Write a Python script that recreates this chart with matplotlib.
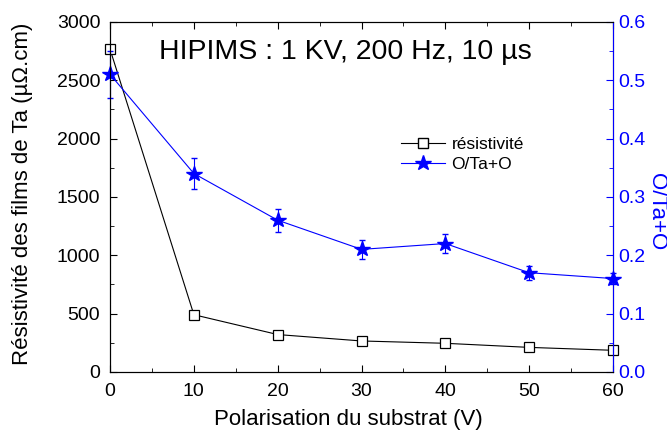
import numpy as np
import matplotlib.pyplot as plt
from matplotlib.ticker import MultipleLocator
from matplotlib.lines import Line2D

plt.rcParams['font.family'] = ['Liberation Sans', 'DejaVu Sans']

# Substrate bias (V)
bias = [0, 10, 20, 30, 40, 50, 60]
# Resistivity (uOhm.cm)
resist = [2765, 490, 320, 265, 245, 210, 185]
resist_err = [30, 30, 25, 25, 25, 25, 20]
# O/(Ta+O) ratio
ratio = [0.51, 0.34, 0.26, 0.21, 0.22, 0.17, 0.16]
ratio_err = [0.04, 0.027, 0.02, 0.016, 0.017, 0.012, 0.01]

blue = '#0000ff'

fig = plt.figure(figsize=(6.67, 4.37), dpi=100)
ax = fig.add_axes([0.165, 0.149, 0.754, 0.801])
ax2 = ax.twinx()

ax.errorbar(bias, resist, yerr=resist_err, color='black', lw=0.8,
            marker='s', ms=7, mfc='white', mec='black', mew=0.9,
            capsize=2.5, elinewidth=0.8, clip_on=False)
ax2.errorbar(bias, ratio, yerr=ratio_err, color=blue, lw=0.8,
             marker='*', ms=11.5, mfc=blue, mec=blue,
             capsize=2.5, elinewidth=0.8, clip_on=False)

ax.set_xlim(0, 60)
ax.set_ylim(0, 3000)
ax2.set_ylim(0, 0.6)

ax.xaxis.set_major_locator(MultipleLocator(10))
ax.xaxis.set_minor_locator(MultipleLocator(5))
ax.yaxis.set_major_locator(MultipleLocator(500))
ax.yaxis.set_minor_locator(MultipleLocator(250))
ax2.yaxis.set_major_locator(MultipleLocator(0.1))
ax2.yaxis.set_minor_locator(MultipleLocator(0.05))

ax.tick_params(axis='both', which='both', direction='in', labelsize=14)
ax.tick_params(axis='x', which='both', top=True, pad=8)
ax.tick_params(axis='y', which='both', right=False, pad=7)
ax.tick_params(which='major', length=5)
ax.tick_params(which='minor', length=3)
ax2.tick_params(axis='y', which='both', direction='in', colors=blue, labelsize=14)
ax2.tick_params(which='major', length=5)
ax2.tick_params(which='minor', length=3)
ax2.spines['right'].set_color(blue)
ax2.yaxis.set_major_formatter(plt.FuncFormatter(lambda v, p: f'{v:.1f}'))

ax.set_xlabel('Polarisation du substrat (V)', fontsize=16, labelpad=5)
ax.xaxis.set_label_coords(0.474, -0.105)
ax.xaxis.label.set_va('top')
ax.set_ylabel('Résistivité des films de Ta (µΩ.cm)', fontsize=16)
ax.yaxis.set_label_coords(-0.153, 0.51)
fig.text(656 / 667, 1 - 212 / 437, 'O/Ta+O', fontsize=16, color=blue,
         rotation=270, ha='center', va='center')

ax.text(0.467, 0.915, 'HIPIMS : 1 KV, 200 Hz, 10 µs', transform=ax.transAxes,
        ha='center', va='center', fontsize=20.5)

h1 = Line2D([], [], color='black', lw=0.8, marker='s', ms=7, mfc='white', mec='black')
h2 = Line2D([], [], color=blue, lw=0.8, marker='*', ms=11.5, mfc=blue, mec=blue)
ax.legend([h1, h2], ['résistivité', 'O/Ta+O'], loc='upper left',
          bbox_to_anchor=(0.565, 0.69), frameon=False, fontsize=12.5,
          handlelength=2.5, borderaxespad=0, labelspacing=0.25, handletextpad=0.4)

fig.savefig('out.png', dpi=100)
